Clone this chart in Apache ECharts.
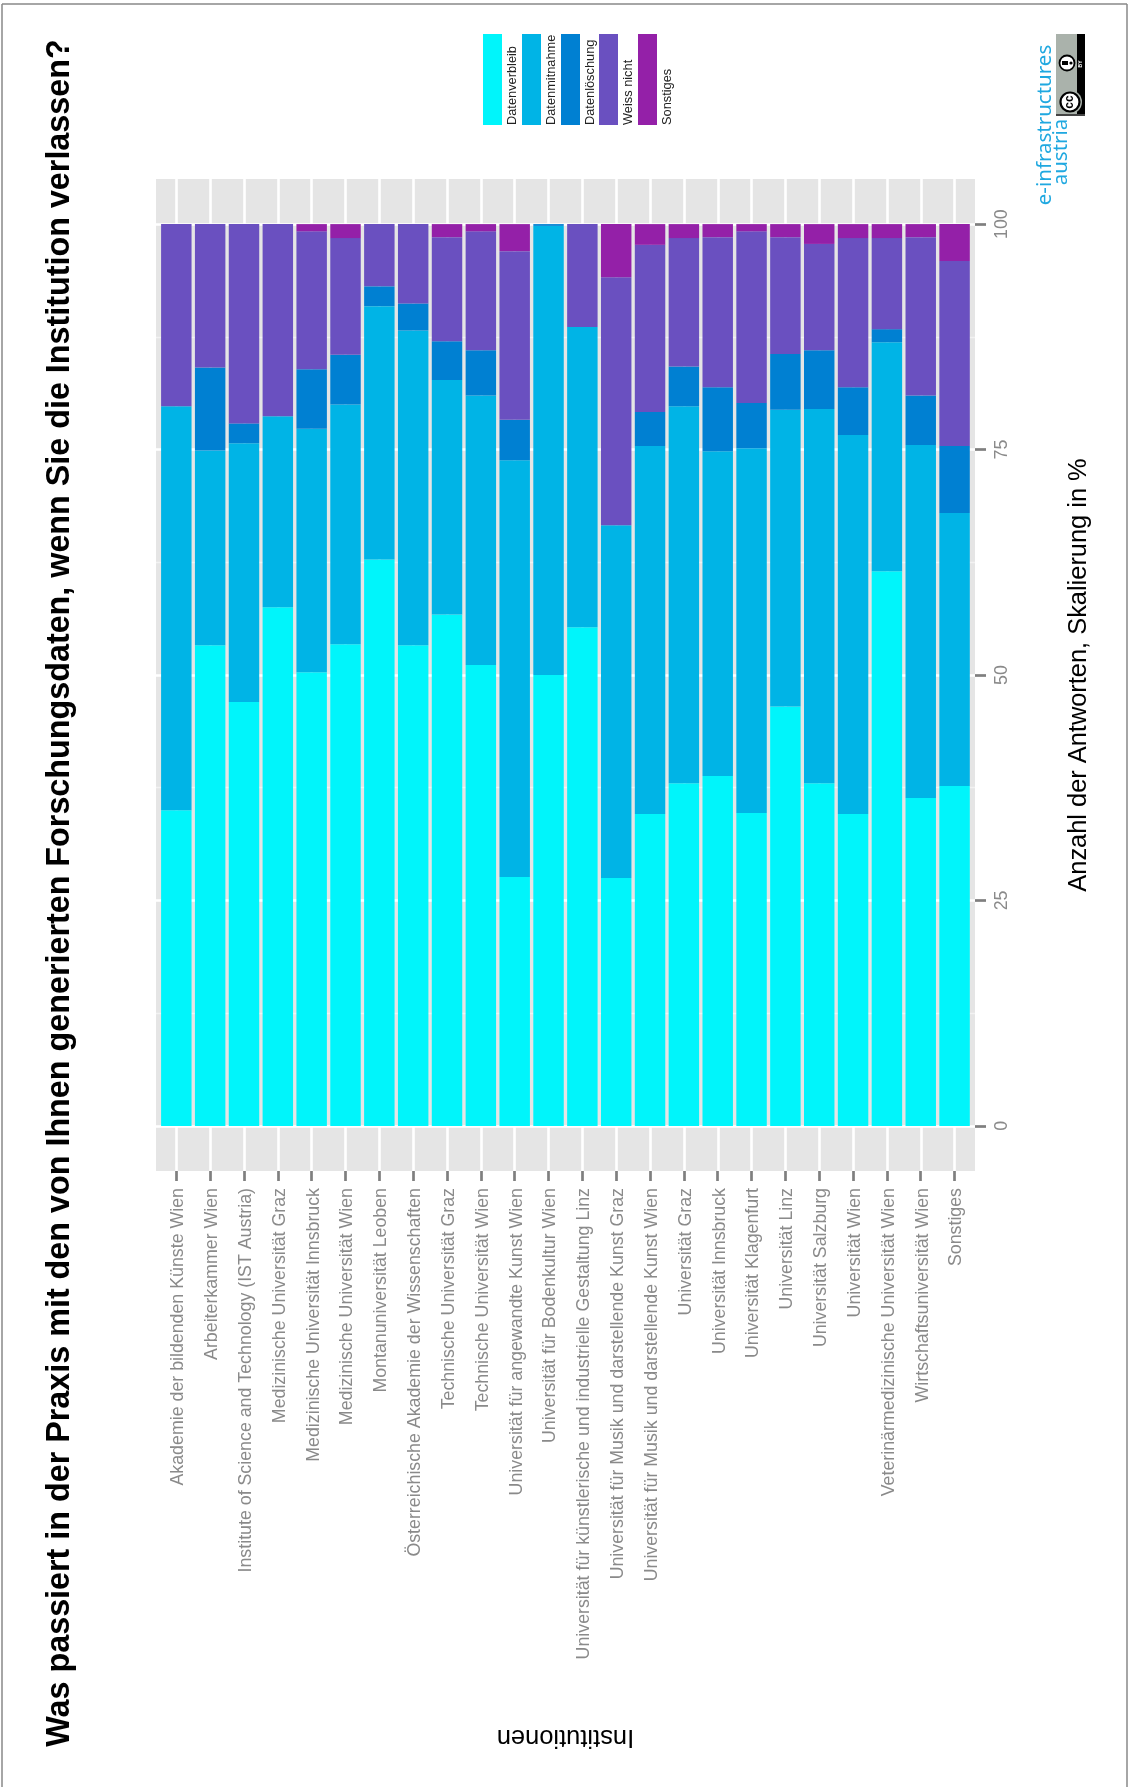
<!DOCTYPE html>
<html><head><meta charset="utf-8">
<style>html,body{margin:0;padding:0;background:#fff}#c{width:1129px;height:1787px}</style>
<script src="https://cdn.jsdelivr.net/npm/echarts@6/dist/echarts.min.js"></script>
</head><body><div id="c"></div>
<script>
const categories = ["Akademie der bildenden Künste Wien","Arbeiterkammer Wien","Institute of Science and Technology (IST Austria)","Medizinische Universität Graz","Medizinische Universität Innsbruck","Medizinische Universität Wien","Montanuniversität Leoben","Österreichische Akademie der Wissenschaften","Technische Universität Graz","Technische Universität Wien","Universität für angewandte Kunst Wien","Universität für Bodenkultur Wien","Universität für künstlerische und industrielle Gestaltung Linz","Universität für Musik und darstellende Kunst Graz","Universität für Musik und darstellende Kunst Wien","Universität Graz","Universität Innsbruck","Universität Klagenfurt","Universität Linz","Universität Salzburg","Universität Wien","Veterinärmedizinische Universität Wien","Wirtschaftsuniversität Wien","Sonstiges"];
const seriesNames = ["Datenverbleib","Datenmitnahme","Datenlöschung","Weiss nicht","Sonstiges"];
const datenverbleib = [35.0,53.3,47.0,57.5,50.3,53.4,62.8,53.3,56.7,51.1,27.6,50.0,55.3,27.5,34.6,38.0,38.8,34.7,46.5,38.0,34.6,61.5,36.35,37.7];
const datenmitnahme = [44.8,21.6,28.7,21.2,27.0,26.6,28.1,34.9,26.0,29.9,46.2,49.8,33.3,39.1,40.8,41.8,36.0,40.45,32.9,41.5,42.0,25.4,39.15,30.25];
const datenloeschung = [0,9.2,2.2,0,6.6,5.5,2.2,3.0,4.3,5.0,4.5,0.2,0,0,3.75,4.4,7.1,5.0,6.2,6.5,5.3,1.45,5.5,7.45];
const weissNicht = [20.2,15.9,22.1,21.3,15.3,12.95,6.9,8.8,11.55,13.2,18.7,0,11.4,27.5,18.55,14.25,16.65,19.05,12.95,11.8,16.55,10.1,17.55,20.5];
const sonstiges = [0,0,0,0,0.8,1.55,0,0,1.45,0.8,3.0,0,0,5.9,2.3,1.55,1.45,0.8,1.45,2.2,1.55,1.55,1.45,4.1];
const seriesValues = [datenverbleib,datenmitnahme,datenloeschung,weissNicht,sonstiges];
const colors = ["#00F5FB","#00B4E6","#0080D2","#6A50C0","#9420A8"];
const majorTicks = [0,25,50,75,100];
const minorTicks = [12.5,37.5,62.5,87.5];
const titleText = "Was passiert in der Praxis mit den von Ihnen generierten Forschungsdaten, wenn Sie die Institution verlassen?";
const valueAxisTitle = "Anzahl der Antworten, Skalierung in %";
const catAxisTitle = "Institutionen";

const F = '"Liberation Sans",Arial,sans-serif';
const legendX = [483,522,561,599,638];
const graphics = [];
const rotL = Math.PI/2;
function rect(x,y,w,h,fill){graphics.push({type:'rect',silent:true,shape:{x,y,width:w,height:h},style:{fill}});}
function line(x1,y1,x2,y2){graphics.push({type:'line',silent:true,shape:{x1,y1,x2,y2},style:{stroke:'#888',lineWidth:1.5}});}
function text(t,x,y,size,fill,align,weight,family){graphics.push({type:'text',silent:true,x,y,rotation:rotL,style:{text:t,fill,font:(weight||'normal')+' '+size+'px '+(family||F),textAlign:align||'center',textVerticalAlign:'middle'}});}
function circle(cx,cy,r,fill,stroke,lw){graphics.push({type:'circle',silent:true,shape:{cx,cy,r},style:{fill,stroke,lineWidth:lw||0}});}

line(2,4,1127,4);line(2,4,2,1787);line(1127,4,1127,1787);
text(titleText,60,893,32.3,'#000','center','bold');
seriesNames.forEach((n,i)=>{rect(legendX[i],34,19,91,colors[i]);text(n,legendX[i]+29,125,12.8,'#222','left');});
// Logo
text('e-infrastructures',1045,125,20.5,'#1fa8e0','center','normal','"Noto Sans",sans-serif');
text('austria',1061,152,20.5,'#1fa8e0','center','normal','"Noto Sans",sans-serif');
rect(1056,34,29,82,'#aab2ab');rect(1077,34,8,82,'#000');
rect(1077,92,8,24,'#000');circle(1070,102,12,'#aab2ab');rect(1056,114,29,2,'#444');
circle(1070,102,9.5,'#fff','#000',2.2);text('cc',1070,102,12,'#000','center','bold');
circle(1067,63,7.5,'#fff','#000',1.8);circle(1071,63,1.6,'#000');rect(1062,61,6,4,'#000');
text('BY',1081,64,5,'#fff','center','bold');

const bgSeries = {type:'line',xAxisIndex:1,yAxisIndex:1,data:[],z:1,silent:true,animation:false,
  markLine:{silent:true,animation:false,symbol:'none',label:{show:false},z:1,
    data:[
      ...majorTicks.map(v=>({yAxis:v,lineStyle:{color:'#fff',width:2.6,type:'solid'}})),
      ...minorTicks.map(v=>({yAxis:v,lineStyle:{color:'#f2f2f2',width:1.3,type:'solid'}})),
      ...categories.map((c,i)=>({xAxis:i,lineStyle:{color:'#fff',width:2.6,type:'solid'}}))
    ]}};

const chart = echarts.init(document.getElementById('c'),null,{renderer:'canvas',width:1129,height:1787});
chart.setOption({
  animation:false,backgroundColor:'#fff',
  grid:[
    {left:159.4,right:1129-971.5,top:179,bottom:1787-1171,containLabel:false},
    {left:156,right:1129-975,top:179,bottom:1787-1171,show:true,backgroundColor:'#e5e5e5',borderWidth:0}
  ],
  xAxis:[
    {type:'category',gridIndex:0,data:categories,boundaryGap:true,position:'bottom',
     axisLine:{show:false,onZero:false},
     axisTick:{show:true,interval:0,alignWithLabel:true,length:10,lineStyle:{color:'#7f7f7f',width:2.7}},
     axisLabel:{interval:0,rotate:90,margin:17,verticalAlign:'top',lineHeight:4,fontFamily:F,fontSize:17.8,color:'#8a8a8a',hideOverlap:false},
     splitLine:{show:false},
     name:catAxisTitle,nameLocation:'middle',nameRotate:180,nameGap:553,
     nameTextStyle:{fontFamily:F,fontSize:25.5,color:'#000'}},
    {type:'value',gridIndex:1,min:-0.6,max:23.6,show:false,splitLine:{show:false}}
  ],
  yAxis:[
    {type:'value',gridIndex:0,min:-5,max:105,interval:5,position:'right',offset:3.5,axisLine:{show:false,onZero:false},
     axisTick:{show:true,length:11,customValues:majorTicks,lineStyle:{color:'#7f7f7f',width:2.7}},
     axisLabel:{rotate:90,margin:18,customValues:majorTicks,fontFamily:F,fontSize:17.8,color:'#8a8a8a'},
     splitLine:{show:false},
     name:valueAxisTitle,nameLocation:'middle',nameRotate:90,nameGap:91,
     nameTextStyle:{fontFamily:F,fontSize:25.4,color:'#000'}},
    {type:'value',gridIndex:1,min:-5,max:105,interval:5,show:false,splitLine:{show:false}}
  ],
  series:[bgSeries,...seriesNames.map((n,i)=>({
    type:'bar',name:n,stack:'total',xAxisIndex:0,yAxisIndex:0,barWidth:'90%',z:2,
    data:seriesValues[i],itemStyle:{color:colors[i]},silent:true
  }))],
  graphic:{elements:graphics}
});
</script></body></html>
